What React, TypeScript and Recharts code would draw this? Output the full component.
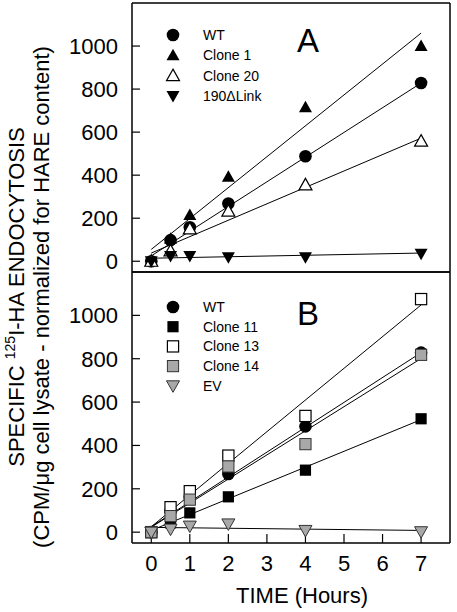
import React from 'react';
import { ComposedChart, Line, Scatter, XAxis, YAxis } from 'recharts';

// ---------- data ----------
const TIMES = [0, 0.5, 1, 2, 4, 7];
const FIT_X = [0, 7];
const X_TICKS = [0, 1, 2, 3, 4, 5, 6, 7];
const Y_TICKS = [0, 200, 400, 600, 800, 1000];

// Panel A
const A_WT = [0, 98, 158, 268, 488, 828];
const A_CLONE1 = [0, 105, 215, 393, 715, 1000];
const A_CLONE20 = [0, 48, 150, 233, 355, 558];
const A_LINK = [0, 24, 24, 18, 18, 35];
const A_WT_FIT = [25, 828];
const A_CLONE1_FIT = [55, 1060];
const A_CLONE20_FIT = [38, 572];
const A_LINK_FIT = [14, 38];

// Panel B
const B_WT = [0, 98, 158, 268, 488, 828];
const B_CLONE11 = [0, 43, 89, 163, 286, 523];
const B_CLONE13 = [0, 115, 189, 353, 536, 1075];
const B_CLONE14 = [0, 74, 150, 303, 406, 818];
const B_EV = [0, 14, 28, 38, 8, 2];
const B_WT_FIT = [25, 828];
const B_CLONE11_FIT = [8, 519];
const B_CLONE13_FIT = [25, 1048];
const B_CLONE14_FIT = [23, 801];
const B_EV_FIT = [22, 8];

type Kind = 'circle' | 'triUp' | 'triUpOpen' | 'triDown' | 'square' | 'squareOpen' | 'squareGray' | 'triDownGray';

interface Series { name: string; kind: Kind; values: number[]; fit: number[]; }

const SERIES_A: Series[] = [
  { name: 'WT', kind: 'circle', values: A_WT, fit: A_WT_FIT },
  { name: 'Clone 1', kind: 'triUp', values: A_CLONE1, fit: A_CLONE1_FIT },
  { name: 'Clone 20', kind: 'triUpOpen', values: A_CLONE20, fit: A_CLONE20_FIT },
  { name: '190\u0394Link', kind: 'triDown', values: A_LINK, fit: A_LINK_FIT },
];

const SERIES_B: Series[] = [
  { name: 'WT', kind: 'circle', values: B_WT, fit: B_WT_FIT },
  { name: 'Clone 11', kind: 'square', values: B_CLONE11, fit: B_CLONE11_FIT },
  { name: 'Clone 13', kind: 'squareOpen', values: B_CLONE13, fit: B_CLONE13_FIT },
  { name: 'Clone 14', kind: 'squareGray', values: B_CLONE14, fit: B_CLONE14_FIT },
  { name: 'EV', kind: 'triDownGray', values: B_EV, fit: B_EV_FIT },
];

const GRAY = '#a8a8a8';
const FONT = '"Liberation Sans", Arial, Helvetica, sans-serif';

function Marker({ kind, cx, cy }: { kind: Kind; cx: number; cy: number }) {
  const t = 6.5;
  const s = 5.6;
  switch (kind) {
    case 'circle':
      return <circle cx={cx} cy={cy} r={6.3} fill="#000" />;
    case 'triUp':
      return <path d={`M${cx},${cy - t} L${cx + t},${cy + 5} L${cx - t},${cy + 5} Z`} fill="#000" />;
    case 'triUpOpen':
      return <path d={`M${cx},${cy - t} L${cx + t},${cy + 5} L${cx - t},${cy + 5} Z`} fill="#fff" stroke="#000" strokeWidth={1.2} />;
    case 'triDown':
      return <path d={`M${cx},${cy + t} L${cx + t},${cy - 5} L${cx - t},${cy - 5} Z`} fill="#000" />;
    case 'triDownGray':
      return <path d={`M${cx},${cy + t} L${cx + t},${cy - 5} L${cx - t},${cy - 5} Z`} fill={GRAY} stroke="#333" strokeWidth={1} />;
    case 'square':
      return <rect x={cx - s} y={cy - s} width={2 * s} height={2 * s} fill="#000" />;
    case 'squareOpen':
      return <rect x={cx - s} y={cy - s} width={2 * s} height={2 * s} fill="#fff" stroke="#000" strokeWidth={1.2} />;
    case 'squareGray':
      return <rect x={cx - s} y={cy - s} width={2 * s} height={2 * s} fill={GRAY} stroke="#333" strokeWidth={1} />;
  }
  return null;
}

const W = 457;
const H = 612;
const X_DOMAIN: [number, number] = [-0.5, 7.75];
const Y_DOMAIN: [number, number] = [-50, 1200];

function Panel({ series, top, bottom, showXLabels }: { series: Series[]; top: number; bottom: number; showXLabels: boolean }) {
  const axisLine = { stroke: '#000', strokeWidth: 1.5 };
  const tickLine = { stroke: '#000', strokeWidth: 1.2 };
  return (
    <ComposedChart width={W} height={H} margin={{ top: top - 1, right: 6, bottom: H - bottom - 1, left: 0 }}>
      <XAxis
        xAxisId="b" type="number" dataKey="x" domain={X_DOMAIN} ticks={X_TICKS} orientation="bottom"
        height={1} tickSize={-9} tickMargin={21} axisLine={axisLine} tickLine={tickLine}
        tick={showXLabels ? { fill: '#000', fontSize: 22, fontFamily: FONT } : false}
        allowDataOverflow interval={0}
      />
      <XAxis
        xAxisId="t" type="number" dataKey="x" domain={X_DOMAIN} ticks={X_TICKS} orientation="top"
        height={1} tickSize={-9} axisLine={axisLine} tickLine={tickLine} tick={false} allowDataOverflow interval={0}
      />
      <YAxis
        yAxisId="l" type="number" dataKey="y" domain={Y_DOMAIN} ticks={Y_TICKS} orientation="left"
        width={132} tickSize={-8} tickMargin={22} axisLine={axisLine} tickLine={tickLine}
        tick={{ fill: '#000', fontSize: 22, fontFamily: FONT }} allowDataOverflow interval={0}
      />
      <YAxis
        yAxisId="r" type="number" dataKey="y" domain={Y_DOMAIN} ticks={Y_TICKS} orientation="right"
        width={1} tickSize={-8} axisLine={axisLine} tickLine={tickLine} tick={false} allowDataOverflow interval={0}
      />
      {series.map((s) => (
        <Line
          key={'fit-' + s.name}
          xAxisId="b" yAxisId="l"
          data={FIT_X.map((x, i) => ({ x, y: s.fit[i] }))}
          dataKey="y" type="linear" stroke="#000" strokeWidth={1} dot={false} activeDot={false}
          isAnimationActive={false} legendType="none"
        />
      ))}
      {series.map((s) => (
        <Scatter
          key={'pts-' + s.name}
          name={s.name}
          xAxisId="b" yAxisId="l"
          data={TIMES.map((x, i) => ({ x, y: s.values[i] }))}
          isAnimationActive={false}
          shape={(p: any) => <Marker kind={s.kind} cx={p.cx} cy={p.cy} />}
        />
      ))}
    </ComposedChart>
  );
}

function LegendBlock({ series, y0, step }: { series: Series[]; y0: number; step: number }) {
  return (
    <g>
      {series.map((s, i) => (
        <g key={s.name}>
          <Marker kind={s.kind} cx={173} cy={y0 + i * step} />
          <text x={203} y={y0 + i * step + 5} fontSize={14} fontFamily={FONT} fill="#000">{s.name}</text>
        </g>
      ))}
    </g>
  );
}

export default function App() {
  return (
    <div style={{ position: 'absolute', left: 0, top: 0, width: W, height: H, background: '#fff', overflow: 'hidden' }}>
      <div style={{ position: 'absolute', left: 0, top: 0 }}>
        <Panel series={SERIES_A} top={3} bottom={272} showXLabels={false} />
      </div>
      <div style={{ position: 'absolute', left: 0, top: 0 }}>
        <Panel series={SERIES_B} top={272} bottom={543} showXLabels={true} />
      </div>
      <svg width={W} height={H} style={{ position: 'absolute', left: 0, top: 0, pointerEvents: 'none' }}>
        <LegendBlock series={SERIES_A} y0={35} step={20.3} />
        <LegendBlock series={SERIES_B} y0={307} step={19.7} />
        <text x={308} y={52} fontSize={33} fontFamily={FONT} textAnchor="middle" fill="#000">A</text>
        <text x={308} y={325} fontSize={33} fontFamily={FONT} textAnchor="middle" fill="#000">B</text>
        <text x={302} y={603} fontSize={22} fontFamily={FONT} textAnchor="middle" fill="#000">TIME (Hours)</text>
        <text transform="translate(24,297) rotate(-90)" fontSize={22} fontFamily={FONT} textAnchor="middle" fill="#000">
          SPECIFIC <tspan fontSize={14} dy={-9}>125</tspan><tspan dy={9}>I-HA ENDOCYTOSIS</tspan>
        </text>
        <text transform="translate(49,297) rotate(-90)" fontSize={22} fontFamily={FONT} textAnchor="middle" fill="#000">
          (CPM/{'\u03BC'}g cell lysate - normalized for HARE content)
        </text>
      </svg>
    </div>
  );
}
